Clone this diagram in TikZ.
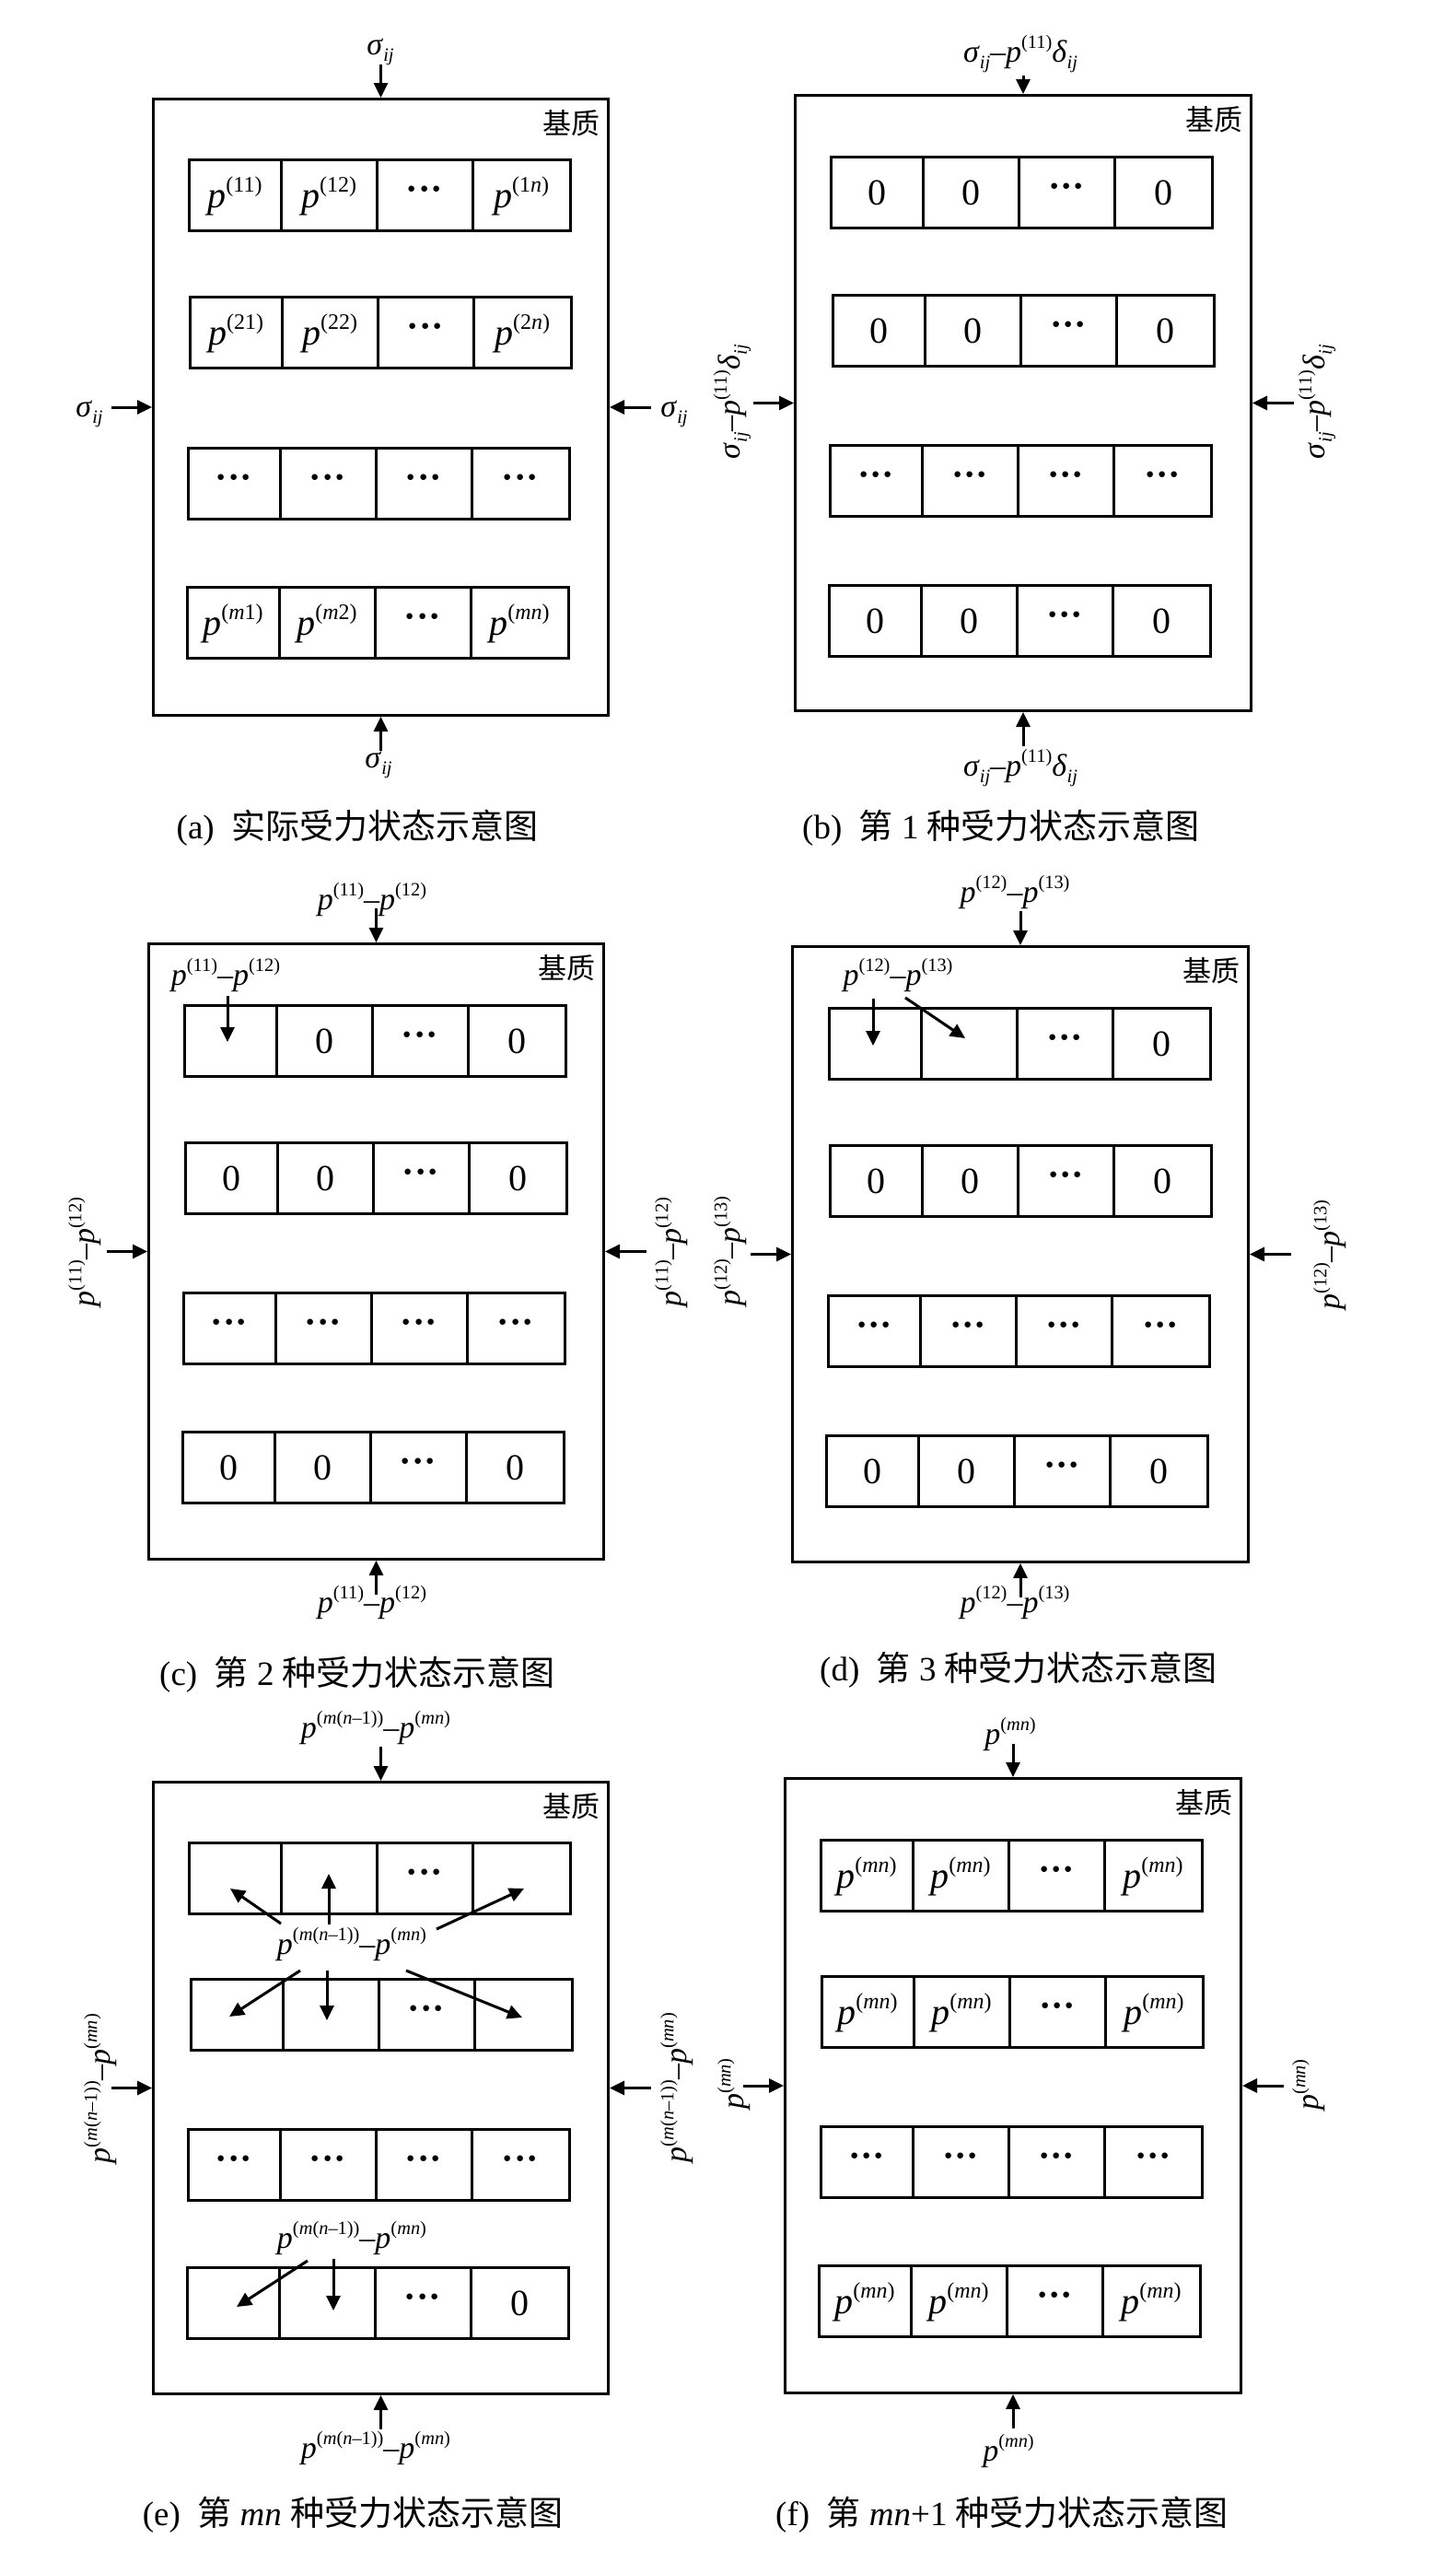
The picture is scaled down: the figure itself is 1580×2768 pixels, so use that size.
\documentclass[tikz,border=0pt]{standalone}
\usepackage{graphicx}
\usepackage{fontspec}
\setmainfont{Liberation Serif}
\newfontfamily\cjk{Noto Sans CJK SC}
\usetikzlibrary{arrows.meta}

\newcommand{\Sup}[1]{\raisebox{0.42em}{\scalebox{0.6}{#1}}}
\newcommand{\Sub}[1]{\raisebox{-0.22em}{\scalebox{0.6}{#1}}}
\newcommand{\Pv}[1]{\textit{p}\Sup{(#1)}}
\newcommand{\sij}{\textit{σ}\Sub{\textit{ij}}}
\newcommand{\dij}{\textit{δ}\Sub{\textit{ij}}}
\newcommand{\dd}{\raisebox{7pt}{\textbf{···}}}
\newcommand{\Pmn}{\Pv{\textit{mn}}}
\newcommand{\Pmm}{\Pv{\textit{m}(\textit{n}–1)}}
\newcommand{\EE}{\Pmm–\Pmn}

\newcommand{\cellrow}[7]{%
  \node[cellbox, minimum width=100pt] (#1-1) at (#2,#3) {#4};
  \node[cellbox, minimum width=104pt] (#1-2) at (#1-1.north east) {#5};
  \node[cellbox, minimum width=104pt] (#1-3) at (#1-2.north east) {#6};
  \node[cellbox, minimum width=106pt] (#1-4) at (#1-3.north east) {#7};}

\newcommand{\forces}[2]{%
  \draw[force] ([yshift=#2pt]#1.north) -- (#1.north);
  \draw[force] ([xshift=-44pt]#1.west) -- (#1.west);
  \draw[force] ([xshift=45pt]#1.east) -- (#1.east);
  \draw[force] ([yshift=-37pt]#1.south) -- (#1.south);}

\begin{document}
\begin{tikzpicture}[x=1pt,y=-1pt,
  matrixbox/.style={draw, line width=3pt, minimum width=494pt, minimum height=668pt, anchor=north west, inner sep=0pt},
  cellbox/.style={draw, line width=3pt, outer sep=0pt, minimum height=77pt, inner sep=0pt, text height=38pt, text depth=10pt, font=\fontsize{40}{48}\selectfont, anchor=north west},
  force/.style={line width=3pt, -{Triangle[length=16pt,width=15pt]}},
  lab/.style={font=\fontsize{34}{40}\selectfont, inner sep=0pt},
  capt/.style={font=\fontsize{37}{44}\selectfont, inner sep=0pt},
  mat/.style={font=\cjk\fontsize{31}{36}\selectfont, anchor=east, inner sep=0pt}]

\path[fill=white] (0,0) rectangle (1580,2768);

% ---------------- (a)
\node[matrixbox, minimum height=669pt] (Abox) at (165,106) {};
\node[mat] (Amat) at ([xshift=-10pt,yshift=-28pt]Abox.north east) {基质};
\cellrow{A1}{205}{173}{\Pv{11}}{\Pv{12}}{\dd}{\Pv{1\textit{n}}}
\cellrow{A2}{206}{322}{\Pv{21}}{\Pv{22}}{\dd}{\Pv{2\textit{n}}}
\cellrow{A3}{204}{486}{\dd}{\dd}{\dd}{\dd}
\cellrow{A4}{203}{637}{\Pv{\textit{m}1}}{\Pv{\textit{m}2}}{\dd}{\Pmn}
\forces{Abox}{36}
\node[lab, anchor=base] (Atop) at (413,59) {\sij};
\node[lab, anchor=base] (Aleft) at (97,452) {\sij};
\node[lab, anchor=base] (Aright) at (732,452) {\sij};
\node[lab, anchor=base] (Abot) at (411,833) {\sij};
\node[capt] (Acap) at (388,899) {(a)\hspace{0.5em}{\cjk 实际受力状态示意图}};

% ---------------- (b)
\node[matrixbox, minimum width=495pt] (Bbox) at (862,102) {};
\node[mat] (Bmat) at ([xshift=-10pt,yshift=-28pt]Bbox.north east) {基质};
\cellrow{B1}{902}{170}{0}{0}{\dd}{0}
\cellrow{B2}{904}{320}{0}{0}{\dd}{0}
\cellrow{B3}{901}{483}{\dd}{\dd}{\dd}{\dd}
\cellrow{B4}{900}{635}{0}{0}{\dd}{0}
\forces{Bbox}{20}
\node[lab, anchor=base] (Btop) at (1108,67) {\sij–\Pv{11}\dij};
\node[lab, anchor=base] (Bbot) at (1108,842) {\sij–\Pv{11}\dij};
\node[lab, rotate=90] (Bleft) at (795,436) {\sij–\Pv{11}\dij};
\node[lab, rotate=90] (Bright) at (1430,436) {\sij–\Pv{11}\dij};
\node[capt] (Bcap) at (1087,899) {(b)\hspace{0.5em}{\cjk 第} 1 {\cjk 种受力状态示意图}};

% ---------------- (c)
\node[matrixbox] (Cbox) at (160,1023) {};
\node[mat] (Cmat) at ([xshift=-10pt,yshift=-28pt]Cbox.north east) {基质};
\cellrow{C1}{200}{1091}{}{0}{\dd}{0}
\cellrow{C2}{201}{1240}{0}{0}{\dd}{0}
\cellrow{C3}{199}{1403}{\dd}{\dd}{\dd}{\dd}
\cellrow{C4}{198}{1554}{0}{0}{\dd}{0}
\forces{Cbox}{37}
\node[lab, anchor=base] (Ctop) at (404,987) {\Pv{11}–\Pv{12}};
\node[lab, anchor=base] (Cbot) at (404,1750) {\Pv{11}–\Pv{12}};
\node[lab, anchor=base] (Cin) at (245,1069) {\Pv{11}–\Pv{12}};
\coordinate (c1s) at (247,1081); \coordinate (c1e) at (247,1131);
\draw[force] (c1s) -- (c1e);
\node[lab, rotate=90] (Cleft) at (92,1359) {\Pv{11}–\Pv{12}};
\node[lab, rotate=90] (Cright) at (729,1359) {\Pv{11}–\Pv{12}};
\node[capt] (Ccap) at (388,1818) {(c)\hspace{0.5em}{\cjk 第} 2 {\cjk 种受力状态示意图}};

% ---------------- (d)
\node[matrixbox, minimum width=495pt] (Dbox) at (859,1026) {};
\node[mat] (Dmat) at ([xshift=-10pt,yshift=-28pt]Dbox.north east) {基质};
\cellrow{D1}{900}{1094}{}{}{\dd}{0}
\cellrow{D2}{901}{1243}{0}{0}{\dd}{0}
\cellrow{D3}{899}{1406}{\dd}{\dd}{\dd}{\dd}
\cellrow{D4}{897}{1558}{0}{0}{\dd}{0}
\forces{Dbox}{37}
\node[lab, anchor=base] (Dtop) at (1102,979) {\Pv{12}–\Pv{13}};
\node[lab, anchor=base] (Dbot) at (1102,1750) {\Pv{12}–\Pv{13}};
\node[lab, anchor=base] (Din) at (975,1069) {\Pv{12}–\Pv{13}};
\coordinate (d1s) at (948,1084); \coordinate (d1e) at (948,1135);
\coordinate (d2s) at (983,1083); \coordinate (d2e) at (1048,1127);
\draw[force] (d1s) -- (d1e);
\draw[force] (d2s) -- (d2e);
\node[lab, rotate=90] (Dleft) at (793,1358) {\Pv{12}–\Pv{13}};
\node[lab, rotate=90] (Dright) at (1444,1362) {\Pv{12}–\Pv{13}};
\node[capt] (Dcap) at (1106,1813) {(d)\hspace{0.5em}{\cjk 第} 3 {\cjk 种受力状态示意图}};

% ---------------- (e)
\node[matrixbox, minimum height=664pt] (Ebox) at (165,1933) {};
\node[mat] (Emat) at ([xshift=-10pt,yshift=-28pt]Ebox.north east) {基质};
\cellrow{E1}{205}{2000}{}{}{\dd}{}
\cellrow{E2}{207}{2148}{}{}{\dd}{}
\cellrow{E3}{204}{2311}{\dd}{\dd}{\dd}{\dd}
\cellrow{E4}{203}{2461}{}{}{\dd}{0}
\forces{Ebox}{37}
\node[lab, anchor=base] (Etop) at (408,1886) {\EE};
\node[lab, anchor=base] (Emid) at (382,2121) {\EE};
\node[lab, anchor=base] (Elow) at (382,2440) {\EE};
\node[lab, anchor=base] (Ebot) at (408,2668) {\EE};
\coordinate (e1s) at (305,2088); \coordinate (e1e) at (250,2050);
\coordinate (e2s) at (357,2089); \coordinate (e2e) at (357,2034);
\coordinate (e3s) at (474,2094); \coordinate (e3e) at (569,2050);
\coordinate (e4s) at (326,2139); \coordinate (e4e) at (249,2189);
\coordinate (e5s) at (355,2139); \coordinate (e5e) at (355,2193);
\coordinate (e6s) at (441,2139); \coordinate (e6e) at (567,2190);
\coordinate (e7s) at (334,2454); \coordinate (e7e) at (257,2504);
\coordinate (e8s) at (362,2452); \coordinate (e8e) at (362,2508);
\foreach \k in {1,...,8} {\draw[force] (e\k s) -- (e\k e);}
\node[lab, rotate=90] (Eleft) at (109,2267) {\EE};
\node[lab, rotate=90] (Eright) at (735,2266) {\EE};
\node[capt] (Ecap) at (383,2730) {(e)\hspace{0.5em}{\cjk 第} \textit{mn} {\cjk 种受力状态示意图}};

% ---------------- (f)
\node[matrixbox, minimum width=495pt, minimum height=667pt] (Fbox) at (851,1929) {};
\node[mat] (Fmat) at ([xshift=-10pt,yshift=-28pt]Fbox.north east) {基质};
\cellrow{F1}{891}{1997}{\Pmn}{\Pmn}{\dd}{\Pmn}
\cellrow{F2}{892}{2145}{\Pmn}{\Pmn}{\dd}{\Pmn}
\cellrow{F3}{891}{2308}{\dd}{\dd}{\dd}{\dd}
\cellrow{F4}{889}{2459}{\Pmn}{\Pmn}{\dd}{\Pmn}
\forces{Fbox}{36}
\node[lab, anchor=base] (Ftop) at (1097,1893) {\Pmn};
\node[lab, anchor=base] (Fbot) at (1095,2671) {\Pmn};
\node[lab, rotate=90] (Fleft) at (797,2262) {\Pmn};
\node[lab, rotate=90] (Fright) at (1421,2263) {\Pmn};
\node[capt] (Fcap) at (1088,2730) {(f)\hspace{0.5em}{\cjk 第} \textit{mn}+1 {\cjk 种受力状态示意图}};
\end{tikzpicture}
\end{document}
